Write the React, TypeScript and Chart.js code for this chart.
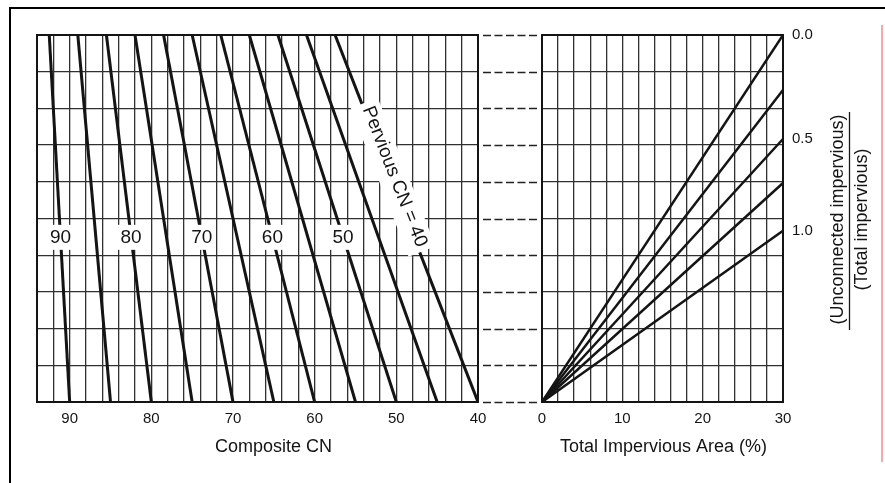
import React, { useEffect, useRef } from 'react';
import { Chart, registerables } from 'chart.js';

Chart.register(...registerables);

// ---------- data ----------
// Left panel: pervious CN lines, composite CN at 0 and at the top of the panel
const perviousCN = [90, 85, 80, 75, 70, 65, 60, 55, 50, 45, 40];
const compositeCNAtTop = [92.5, 89.0, 85.5, 82.0, 78.5, 75.0, 71.5, 68.0, 64.5, 61.0, 57.5];
const labelledCN = [90, 80, 70, 60, 50];
const labelPosition = 13.5; // vertical value where the line labels sit
const perviousTitleCN = 40;
const perviousTitle = 'Pervious CN = 40';
const perviousTitlePosition = 18.3;
const compositeTickLabels = [90, 80, 70, 60, 50, 40];
const cnMin = 40;
const cnMax = 94;
const verticalMax = 30;

// Right panel: ratio lines from the origin to the right edge
const ratioValues = [0, 0.25, 0.5, 0.75, 1.0];
const ratioLineEnds = [30, 25.5, 21.5, 17.9, 14.0];
const ratioTickLabels = ['0.0', '0.5', '1.0'];
const ratioTickPositions = [30, 21.5, 14.0];
const impMax = 30;
const impTickLabels = [0, 10, 20, 30];

const FONT = "'Liberation Sans', Arial, Helvetica, sans-serif";
const INK = '#141414';
const GRID = '#303030';
const TICK = '#151515';

Chart.defaults.font.family = FONT;

const leftDecor = {
  id: 'leftDecor',
  afterDatasetsDraw(chart: any) {
    const ctx = chart.ctx;
    const xs = chart.scales.x;
    const ys = chart.scales.y;
    const pt = (i: number, v: number) => {
      const cn0 = perviousCN[i];
      const cn1 = compositeCNAtTop[i];
      const cn = cn0 + ((cn1 - cn0) * v) / verticalMax;
      return { x: xs.getPixelForValue(cn), y: ys.getPixelForValue(v) };
    };
    ctx.save();
    ctx.font = `19px ${FONT}`;
    ctx.textAlign = 'center';
    ctx.textBaseline = 'middle';
    labelledCN.forEach((cn) => {
      const i = perviousCN.indexOf(cn);
      const p = pt(i, labelPosition);
      const w = ctx.measureText(String(cn)).width + 6;
      ctx.fillStyle = '#fff';
      ctx.fillRect(p.x - w / 2, p.y - 12, w, 25);
      ctx.fillStyle = INK;
      ctx.fillText(String(cn), p.x, p.y + 1);
    });
    const i = perviousCN.indexOf(perviousTitleCN);
    const a = pt(i, 0);
    const b = pt(i, verticalMax);
    const ang = Math.atan2(a.y - b.y, a.x - b.x);
    const c = pt(i, perviousTitlePosition);
    ctx.translate(c.x, c.y);
    ctx.rotate(ang);
    const tw = ctx.measureText(perviousTitle).width;
    ctx.fillStyle = '#fff';
    ctx.fillRect(-tw / 2 - 5, -17, tw + 10, 29);
    ctx.fillStyle = INK;
    ctx.fillText(perviousTitle, 0, -4);
    ctx.restore();
  },
  afterDraw(chart: any) {
    const ctx = chart.ctx;
    const { left, right, top, bottom } = chart.chartArea;
    const ys = chart.scales.y;
    ctx.save();
    ctx.strokeStyle = INK;
    ctx.lineWidth = 2;
    ctx.strokeRect(left, top, right - left, bottom - top);
    ctx.setLineDash([8, 3.5]);
    ctx.lineWidth = 1.4;
    ctx.strokeStyle = '#222';
    ys.ticks.forEach((t: any) => {
      const y = Math.round(ys.getPixelForValue(t.value)) + 0.5;
      ctx.beginPath();
      ctx.moveTo(right + 5, y);
      ctx.lineTo(right + 60, y);
      ctx.stroke();
    });
    ctx.setLineDash([]);
    ctx.fillStyle = INK;
    ctx.font = `18px ${FONT}`;
    ctx.textAlign = 'left';
    ctx.textBaseline = 'alphabetic';
    ctx.fillText('Composite CN', left + 178, bottom + 50);
    ctx.restore();
  },
};

const rightDecor = {
  id: 'rightDecor',
  afterDraw(chart: any) {
    const ctx = chart.ctx;
    const { left, right, top, bottom } = chart.chartArea;
    ctx.save();
    ctx.strokeStyle = INK;
    ctx.lineWidth = 2;
    ctx.strokeRect(left, top, right - left, bottom - top);
    ctx.fillStyle = INK;
    ctx.font = `18px ${FONT}`;
    ctx.textAlign = 'left';
    ctx.textBaseline = 'alphabetic';
    ctx.fillText('Total Impervious Area (%)', left + 18, bottom + 50);
    const midY = (top + bottom) / 2 + 1;
    ctx.textAlign = 'center';
    ctx.textBaseline = 'middle';
    ctx.save();
    ctx.translate(right + 55, midY);
    ctx.rotate(-Math.PI / 2);
    ctx.fillText('(Unconnected impervious)', 0, 0);
    ctx.restore();
    ctx.save();
    ctx.translate(right + 79, midY);
    ctx.rotate(-Math.PI / 2);
    ctx.fillText('(Total impervious)', 0, 0);
    ctx.restore();
    ctx.lineWidth = 1.3;
    ctx.beginPath();
    ctx.moveTo(right + 66.5, top + 77);
    ctx.lineTo(right + 66.5, top + 295);
    ctx.stroke();
    ctx.restore();
  },
};

function leftConfig(): any {
  return {
    type: 'scatter',
    data: {
      datasets: perviousCN.map((cn, i) => ({
        label: `Pervious CN ${cn}`,
        data: [
          { x: cn, y: 0 },
          { x: compositeCNAtTop[i], y: verticalMax },
        ],
        showLine: true,
        borderColor: INK,
        borderWidth: 3,
        pointRadius: 0,
        fill: false,
      })),
    },
    options: {
      animation: false,
      responsive: false,
      maintainAspectRatio: false,
      layout: { padding: { left: 37, top: 35, right: 545 - 478, bottom: 0 } },
      plugins: { legend: { display: false }, tooltip: { enabled: false } },
      scales: {
        x: {
          type: 'linear',
          min: cnMin,
          max: cnMax,
          reverse: true,
          ticks: {
            stepSize: 2,
            autoSkip: false,
            maxRotation: 0,
            padding: 8,
            color: TICK,
            font: { size: 15, family: FONT },
            callback: (v: number) => (compositeTickLabels.includes(v) ? String(v) : ''),
          },
          grid: { color: GRID, lineWidth: 1.3, drawTicks: false },
          border: { display: false },
          afterFit: (s: any) => {
            s.height = 81;
          },
        },
        y: {
          type: 'linear',
          min: 0,
          max: verticalMax,
          ticks: { stepSize: 3, display: false },
          grid: { color: GRID, lineWidth: 1.3, drawTicks: false },
          border: { display: false },
          afterFit: (s: any) => {
            s.width = 0;
          },
        },
      },
    },
    plugins: [leftDecor],
  };
}

function rightConfig(): any {
  return {
    type: 'scatter',
    data: {
      datasets: ratioValues.map((r, i) => ({
        label: `Ratio ${r}`,
        data: [
          { x: 0, y: 0 },
          { x: impMax, y: ratioLineEnds[i] },
        ],
        showLine: true,
        borderColor: INK,
        borderWidth: 2.5,
        pointRadius: 0,
        fill: false,
      })),
    },
    options: {
      animation: false,
      responsive: false,
      maintainAspectRatio: false,
      layout: { padding: { left: 42, top: 35, right: 42, bottom: 0 } },
      plugins: { legend: { display: false }, tooltip: { enabled: false } },
      scales: {
        x: {
          type: 'linear',
          min: 0,
          max: impMax,
          ticks: {
            stepSize: 2,
            autoSkip: false,
            maxRotation: 0,
            padding: 8,
            color: TICK,
            font: { size: 15, family: FONT },
            callback: (v: number) => (impTickLabels.includes(v) ? String(v) : ''),
          },
          grid: { color: GRID, lineWidth: 1.3, drawTicks: false },
          border: { display: false },
          afterFit: (s: any) => {
            s.height = 81;
          },
        },
        y: {
          type: 'linear',
          min: 0,
          max: verticalMax,
          ticks: { stepSize: 3, display: false },
          grid: { color: GRID, lineWidth: 1.3, drawTicks: false },
          border: { display: false },
          afterFit: (s: any) => {
            s.width = 0;
          },
        },
        ratio: {
          type: 'linear',
          position: 'right',
          min: 0,
          max: verticalMax,
          afterBuildTicks: (s: any) => {
            s.ticks = ratioTickPositions.map((v) => ({ value: v }));
          },
          ticks: {
            padding: 9,
            color: TICK,
            font: { size: 15, family: FONT },
            callback: (_v: number, idx: number) => ratioTickLabels[idx],
          },
          grid: { display: false, drawTicks: false },
          border: { display: false },
          afterFit: (s: any) => {
            s.width = 60;
          },
        },
      },
    },
    plugins: [rightDecor],
  };
}

export default function App() {
  const leftRef = useRef<HTMLCanvasElement>(null);
  const rightRef = useRef<HTMLCanvasElement>(null);
  useEffect(() => {
    const l = new Chart(leftRef.current as HTMLCanvasElement, leftConfig());
    const r = new Chart(rightRef.current as HTMLCanvasElement, rightConfig());
    return () => {
      l.destroy();
      r.destroy();
    };
  }, []);
  return (
    <div
      style={{
        position: 'absolute',
        left: 0,
        top: 0,
        width: 885,
        height: 483,
        background: '#fff',
        overflow: 'hidden',
      }}
    >
      <div style={{ position: 'absolute', left: 9, top: 7, width: 876, height: 2, background: '#000' }} />
      <div style={{ position: 'absolute', left: 9, top: 7, width: 2, height: 476, background: '#000' }} />
      <div style={{ position: 'absolute', left: 881, top: 25, width: 2, height: 437, background: '#f6a9a9' }} />
      <canvas ref={leftRef} width={545} height={483} style={{ position: 'absolute', left: 0, top: 0 }} />
      <canvas ref={rightRef} width={385} height={483} style={{ position: 'absolute', left: 500, top: 0 }} />
    </div>
  );
}
